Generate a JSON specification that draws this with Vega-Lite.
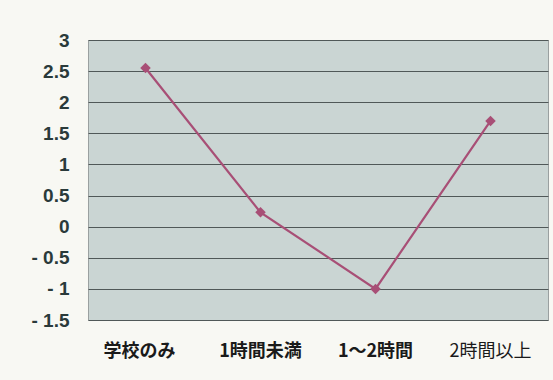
{
  "$schema": "https://vega.github.io/schema/vega-lite/v6.json",
  "autosize": "none",
  "width": 460,
  "height": 280,
  "padding": {"left": 88, "top": 40, "right": 5, "bottom": 60},
  "background": "#f8f8f3",
  "config": {
    "view": {"fill": "#cad5d3", "stroke": "#9aa0a0", "strokeWidth": 1},
    "font": "Noto Sans CJK JP"
  },
  "data": {
    "values": [
      {"cat": "学校のみ", "v": 2.55},
      {"cat": "1時間未満", "v": 0.23},
      {"cat": "1〜2時間", "v": -1.0},
      {"cat": "2時間以上", "v": 1.7}
    ]
  },
  "layer": [
    {
      "mark": {"type": "line", "color": "#a84f76", "strokeWidth": 2.2},
      "encoding": {}
    },
    {
      "mark": {"type": "point", "shape": "diamond", "filled": true, "color": "#a84f76", "size": 110, "opacity": 1},
      "encoding": {}
    }
  ],
  "encoding": {
    "x": {
      "field": "cat", "type": "nominal", "sort": null,
      "scale": {"type": "band", "paddingInner": 0, "paddingOuter": 0},
      "axis": {
        "title": null, "labelAngle": 0, "ticks": false, "domain": false,
        "labelFontSize": 18, "labelColor": "#1a1a1a", "labelPadding": 22,
        "labelFont": "Noto Sans CJK JP",
        "labelOffset": {"condition": {"test": "datum.value == '学校のみ'", "value": -6}, "value": 0},
        "labelFontWeight": {"condition": {"test": "datum.value == '2時間以上'", "value": "normal"}, "value": "bold"}
      }
    },
    "y": {
      "field": "v", "type": "quantitative",
      "scale": {"domain": [-1.5, 3], "nice": false, "zero": false},
      "axis": {
        "title": null, "values": [-1.5, -1, -0.5, 0, 0.5, 1, 1.5, 2, 2.5, 3],
        "labelExpr": "datum.value < 0 ? '- ' + format(-datum.value, '') : format(datum.value, '')",
        "ticks": false, "domain": false, "labelPadding": 19,
        "labelFontSize": 19, "labelFontWeight": "bold", "labelColor": "#2a3a3a",
        "labelFont": "Liberation Sans",
        "grid": true, "gridColor": "#505858", "gridWidth": 1.2
      }
    }
  }
}
